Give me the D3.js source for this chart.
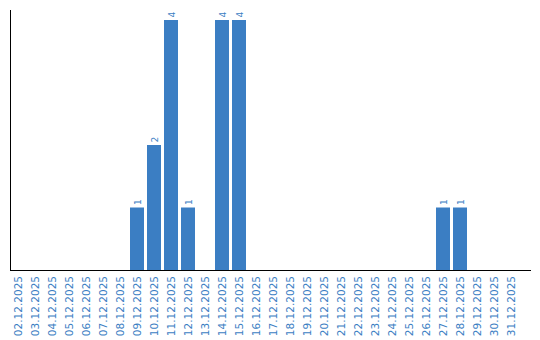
<!DOCTYPE html>
<html>
<head>
<meta charset="utf-8">
<script src="https://cdn.jsdelivr.net/npm/d3@7"></script>
<style>
  body { margin: 0; background: #fff; }
  text { font-family: "DejaVu Sans", Verdana, sans-serif; }
</style>
</head>
<body>
<div id="chart"></div>
<script>
const width = 540;
const height = 340;

const dates = [
    "02.12.2025", "03.12.2025", "04.12.2025", "05.12.2025", "06.12.2025",
    "07.12.2025", "08.12.2025", "09.12.2025", "10.12.2025", "11.12.2025",
    "12.12.2025", "13.12.2025", "14.12.2025", "15.12.2025", "16.12.2025",
    "17.12.2025", "18.12.2025", "19.12.2025", "20.12.2025", "21.12.2025",
    "22.12.2025", "23.12.2025", "24.12.2025", "25.12.2025", "26.12.2025",
    "27.12.2025", "28.12.2025", "29.12.2025", "30.12.2025", "31.12.2025"
];
const counts = [0, 0, 0, 0, 0, 0, 0, 1, 2, 4, 1, 0, 4, 4, 0, 0, 0, 0, 0, 0, 0, 0, 0, 0, 0, 1, 1, 0, 0, 0];
const yDomain = [0, 4];

const barColor = "#3b7ec3";
const left = 11, baseY = 270, topY = 20;

const svg = d3.select("#chart")
    .append("svg")
    .attr("width", width)
    .attr("height", height);

const x = d3.scaleBand()
    .domain(dates)
    .range([left, left + dates.length * 17 - 3])
    .paddingInner(3 / 17)
    .paddingOuter(0);

const y = d3.scaleLinear()
    .domain(yDomain)
    .range([baseY, topY]);

const barData = dates.map((d, i) => ({ date: d, v: counts[i] })).filter(d => d.v > 0);

// bars
svg.selectAll("rect.bar")
    .data(barData)
    .enter()
    .append("rect")
    .attr("class", "bar")
    .attr("x", d => x(d.date))
    .attr("y", d => y(d.v))
    .attr("width", x.bandwidth())
    .attr("height", d => y(0) - y(d.v))
    .attr("fill", barColor);

// value labels
svg.selectAll("text.val")
    .data(barData)
    .enter()
    .append("text")
    .attr("class", "val")
    .attr("transform", d => `translate(${x(d.date) + x.bandwidth() / 2 + 3.5},${y(d.v) - 2.5}) rotate(-90)`)
    .attr("font-size", "9px")
    .attr("fill", barColor)
    .text(d => d.v);

// axis lines
svg.append("line")
    .attr("x1", left - 0.5).attr("x2", left - 0.5)
    .attr("y1", 10).attr("y2", baseY + 1)
    .attr("stroke", "#000").attr("stroke-width", 1);

svg.append("line")
    .attr("x1", left - 1).attr("x2", 531)
    .attr("y1", baseY + 0.5).attr("y2", baseY + 0.5)
    .attr("stroke", "#000").attr("stroke-width", 1);

// date labels
svg.selectAll("text.date")
    .data(dates)
    .enter()
    .append("text")
    .attr("class", "date")
    .attr("transform", d => `translate(${x(d) + x.bandwidth() / 2 + 4},${276}) rotate(-90)`)
    .attr("text-anchor", "end")
    .attr("font-size", "10.5px")
    .attr("fill", barColor)
    .text(d => d);
</script>
</body>
</html>
